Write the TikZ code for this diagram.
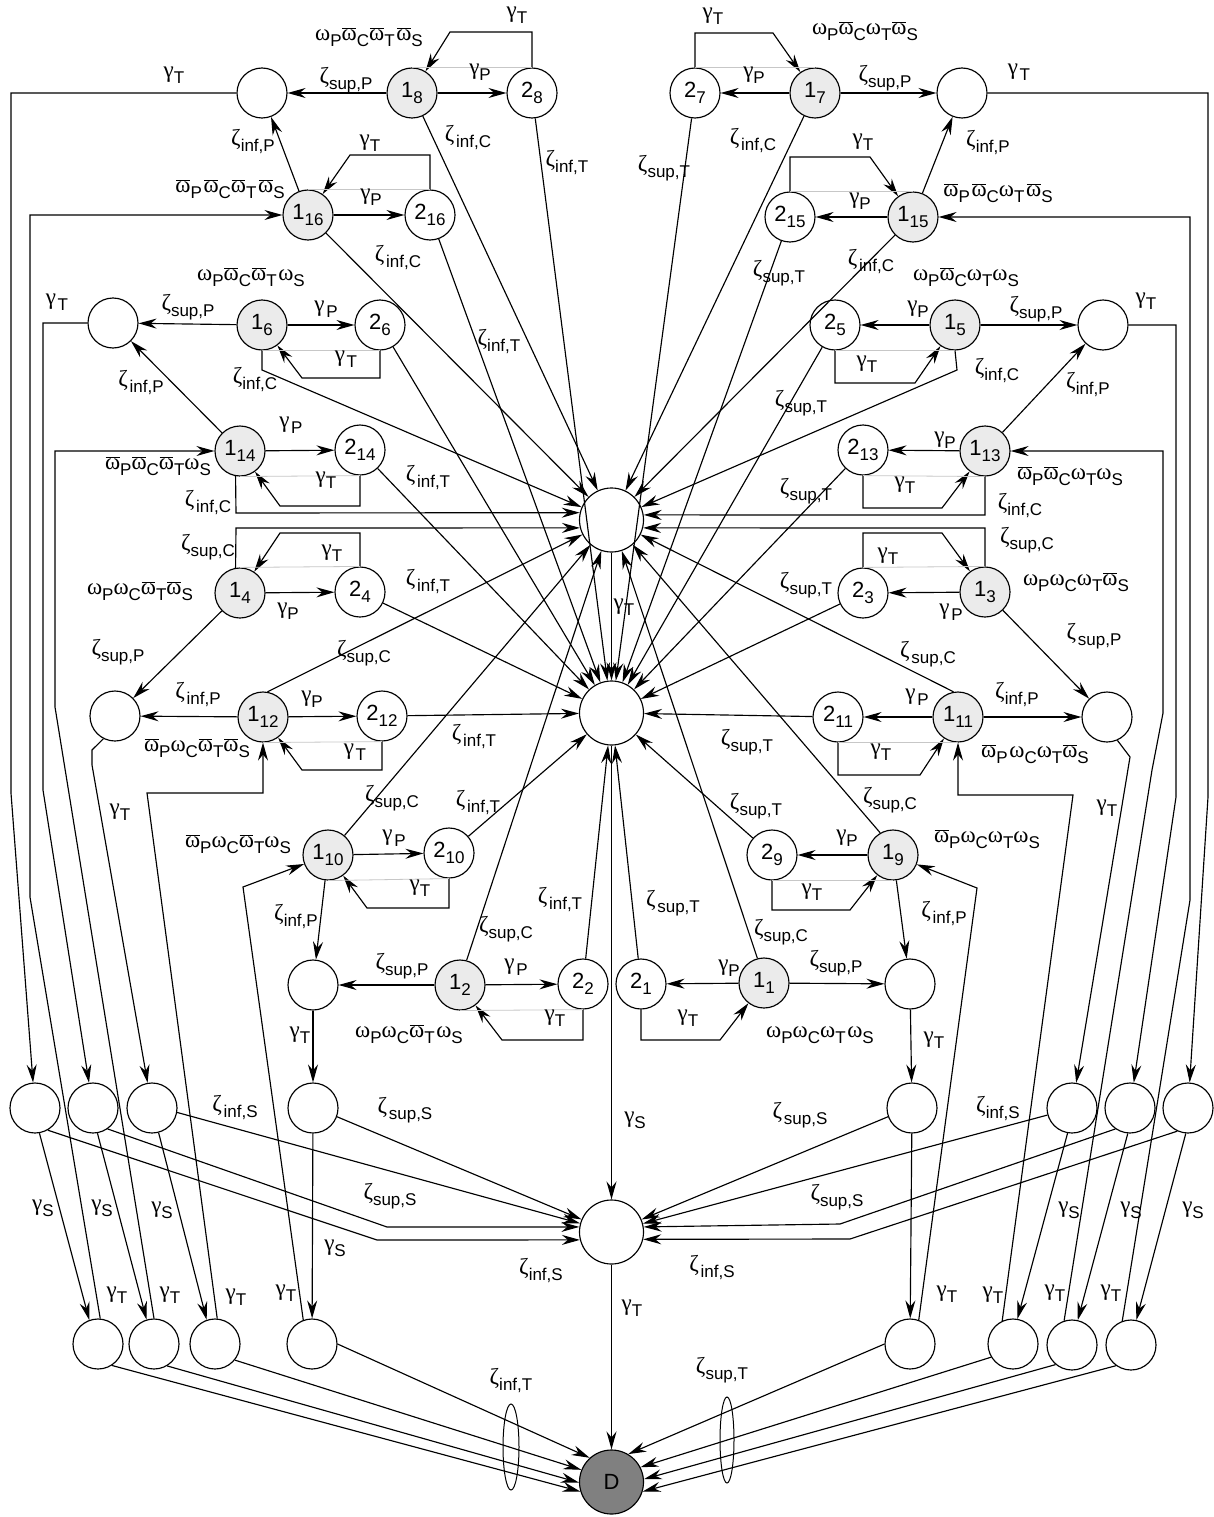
\documentclass[tikz,border=0pt]{standalone}
\usepackage{fontspec}
\setmainfont{Liberation Sans}
\newfontfamily\grk{Liberation Serif}
\usetikzlibrary{arrows.meta}
\newcommand\gk[1]{{\grk\fontsize{23}{23}\selectfont #1}}
\newcommand\sbx[1]{\raisebox{-6pt}{\fontsize{17}{17}\selectfont #1}}
\newcommand\zl[2]{\gk{#1}\sbx{#2}}
\newcommand\zls[2]{\gk{#1}\,\sbx{#2}}
\newcommand\vpi{\ooalign{ω\cr\hidewidth\rule[0.49em]{0.6em}{0.055em}\hidewidth\cr}}
\newcommand\om{\gk{ω}}
\newcommand\vp{\gk{\vpi}}
\newcommand\nd[2]{{\fontsize{22}{22}\selectfont #1}\raisebox{-6pt}{\fontsize{17}{17}\selectfont #2}}
\newcounter{labc}
\newcommand\lab[2]{\stepcounter{labc}\node[lbl] (lab\arabic{labc}) at (#1) {#2};}
\tikzset{
 arr/.style={-{Stealth[length=18pt,width=10pt,inset=6pt]}, line width=1.15pt},
 gl/.style={draw=black!22, line width=0.8pt},
 stn/.style={circle, draw, line width=1.15pt, fill=black!8, minimum size=50pt, inner sep=0pt},
 emn/.style={circle, draw, line width=1.15pt, fill=white, minimum size=50pt, inner sep=0pt},
 bign/.style={circle, draw, line width=1.15pt, fill=white, minimum size=64pt, inner sep=0pt},
 lbl/.style={inner sep=0pt},
}
\begin{document}
\begin{tikzpicture}[x=1pt,y=-1pt]
\fill[white] (0,0) rectangle (1213,1517);
\useasboundingbox (0,0) rectangle (1213,1517);
% ---------- nodes ----------
\node[emn] (L8) at (262,93) {};
\node[stn] (n18) at (412,93) {\nd{1}{8}};
\node[emn] (n28) at (532,93) {\nd{2}{8}};
\node[emn] (n27) at (695,93) {\nd{2}{7}};
\node[stn] (n17) at (815,93) {\nd{1}{7}};
\node[emn] (R7) at (962,93) {};
\node[stn] (n116) at (308,215) {\nd{1}{16}};
\node[emn] (n216) at (430,215) {\nd{2}{16}};
\node[emn] (n215) at (790,217) {\nd{2}{15}};
\node[stn] (n115) at (913,217) {\nd{1}{15}};
\node[emn] (L6) at (113,323) {};
\node[stn] (n16) at (262,325) {\nd{1}{6}};
\node[emn] (n26) at (380,325) {\nd{2}{6}};
\node[emn] (n25) at (835,325) {\nd{2}{5}};
\node[stn] (n15) at (955,325) {\nd{1}{5}};
\node[emn] (R5) at (1103,325) {};
\node[stn] (n114) at (240,451) {\nd{1}{14}};
\node[emn] (n214) at (360,450) {\nd{2}{14}};
\node[emn] (n213) at (863,450) {\nd{2}{13}};
\node[stn] (n113) at (985,451) {\nd{1}{13}};
\node[bign] (C1) at (611.5,520) {};
\node[stn] (n14) at (240,593) {\nd{1}{4}};
\node[emn] (n24) at (360,592) {\nd{2}{4}};
\node[emn] (n23) at (863,593) {\nd{2}{3}};
\node[stn] (n13) at (985,592) {\nd{1}{3}};
\node[emn] (L12) at (115,716) {};
\node[stn] (n112) at (263,717) {\nd{1}{12}};
\node[emn] (n212) at (382,716) {\nd{2}{12}};
\node[bign] (C2) at (611.5,713) {};
\node[emn] (n211) at (838,717) {\nd{2}{11}};
\node[stn] (n111) at (958,717) {\nd{1}{11}};
\node[emn] (R11) at (1107,717) {};
\node[stn] (n110) at (328,855) {\nd{1}{10}};
\node[emn] (n210) at (449,853) {\nd{2}{10}};
\node[emn] (n29) at (772,855) {\nd{2}{9}};
\node[stn] (n19) at (893,855) {\nd{1}{9}};
\node[emn] (L2) at (313,985) {};
\node[stn] (n12) at (460,985) {\nd{1}{2}};
\node[emn] (n22) at (583,984) {\nd{2}{2}};
\node[emn] (n21) at (641,984) {\nd{2}{1}};
\node[stn] (n11) at (764,983) {\nd{1}{1}};
\node[emn] (R1) at (910,984) {};
\node[emn] (Sa) at (35,1108) {};
\node[emn] (Sb) at (93,1108) {};
\node[emn] (Sc) at (152,1108) {};
\node[emn] (Sd) at (313,1108) {};
\node[bign] (C3) at (611.5,1232) {};
\node[emn] (Se) at (912,1108) {};
\node[emn] (Sf) at (1072,1108) {};
\node[emn] (Sg) at (1130,1108) {};
\node[emn] (Sh) at (1188,1108) {};
\node[emn] (Ta) at (98,1344) {};
\node[emn] (Tb) at (154,1344) {};
\node[emn] (Tc) at (215,1344) {};
\node[emn] (Td) at (312,1344) {};
\node[emn] (Te) at (910,1344) {};
\node[emn] (Tf) at (1013,1344) {};
\node[emn] (Tg) at (1072,1345) {};
\node[emn] (Th) at (1131,1345) {};
\node[bign, fill=black!50] (D) at (611.5,1482) {\fontsize{22}{22}\selectfont D};
% ---------- group 8 ----------
\draw[arr] (n18) -- (L8);
\draw[arr] (n18) -- (n28);
\draw[arr] (n28.north) -- (532,32) -- (450,32) -- (n18);
\draw[gl] (n18.north) -- (n28.north);
\draw[arr] (n18) -- (C1);
\draw[arr] (n28) -- (C2);
\draw[arr] (L8.west) -- (11,93) -- (11,793) -- (Sa);
% ---------- group 16 ----------
\draw[arr] (n116) -- (L8);
\draw[arr] (n116) -- (n216);
\draw[arr] (n216.north) -- (430,155) -- (350,155) -- (n116);
\draw[gl] (n116.north) -- (n216.north);
\draw[arr] (n116) -- (C1);
\draw[arr] (n216) -- (C2);
\draw[arr] (Ta.85) -- (30,897) -- (30,215) -- (n116);
% ---------- group 6 ----------
\draw[arr] (n16) -- (L6);
\draw[arr] (n16) -- (n26);
\draw[arr] (n26.south) -- (380,378) -- (302,378) -- (n16);
\draw[gl] (n16.south) -- (n26.south);
\draw[arr] (n16.south) -- (262,370) -- (C1);
\draw[arr] (n26) -- (C2);
\draw[arr] (n114) -- (L6);
\draw[arr] (L6.west) -- (43,323) -- (43,790) -- (Sb);
% ---------- group 14 ----------
\draw[arr] (n114) -- (n214);
\draw[arr] (n214.south) -- (360,506) -- (280,506) -- (n114);
\draw[gl] (n114.south) -- (n214.south);
\draw[arr] (n114.260) -- (236,513) -- (C1.167);
\draw[arr] (n214) -- (C2);
\draw[arr] (Tb.90) -- (55,707) -- (55,451) -- (n114);
% ---------- group 4 ----------
\draw[arr] (n14) -- (n24);
\draw[arr] (n24.north) -- (360,533) -- (280,533) -- (n14);
\draw[gl] (n14.north) -- (n24.north);
\draw[arr] (n14.100) -- (236,528) -- (C1.194);
\draw[arr] (n14) -- (L12);
\draw[arr] (n24) -- (C2);
% ---------- group 12 ----------
\draw[arr] (n112) -- (L12);
\draw[arr] (n112) -- (n212);
\draw[arr] (n212.south) -- (382,770) -- (302,770) -- (n112);
\draw[gl] (n112.south) -- (n212.south);
\draw[arr] (n112.80) -- (C1);
\draw[arr] (n212) -- (C2);
\draw[arr] (Tc.85) -- (147,793) -- (263,793) -- (n112.south);
\draw[arr] (L12.-117) -- (92,750) -- (92,765) -- (Sc);
% ---------- group 10 ----------
\draw[arr] (n110) -- (n210);
\draw[arr] (n210.south) -- (449,908) -- (367,908) -- (n110);
\draw[gl] (n110.south) -- (n210.south);
\draw[arr] (n110) -- (C1);
\draw[arr] (n110) -- (L2);
\draw[arr] (n210) -- (C2);
\draw[arr] (Td.110) -- (243,887) -- (n110);
% ---------- group 2 ----------
\draw[arr] (n12) -- (L2);
\draw[arr] (n12) -- (n22);
\draw[arr] (n22.south) -- (583,1040) -- (502,1040) -- (n12);
\draw[gl] (n12.south) -- (n22.south);
\draw[arr] (n12.75) -- (C1);
\draw[arr] (n22) -- (C2);
\draw[arr] (L2) -- (Sd);
\draw[arr] (Sd) -- (Td);
% ---------- group 1 ----------
\draw[arr] (n11) -- (n21);
\draw[arr] (n11) -- (R1);
\draw[arr] (n21.south) -- (641,1040) -- (720,1040) -- (n11);
\draw[arr] (n11.105) -- (C1);
\draw[arr] (n21) -- (C2);
\draw[arr] (R1) -- (Se);
\draw[arr] (Se) -- (Te);
% ---------- group 9 ----------
\draw[arr] (n19) -- (n29);
\draw[arr] (n29.south) -- (772,910) -- (850,910) -- (n19);
\draw[gl] (n19.south) -- (n29.south);
\draw[arr] (n19.120) -- (C1);
\draw[arr] (n29) -- (C2);
\draw[arr] (n19) -- (R1);
\draw[arr] (Te.70) -- (977,888) -- (n19);
% ---------- group 11 ----------
\draw[arr] (n111) -- (n211);
\draw[arr] (n111) -- (R11);
\draw[arr] (n211.south) -- (838,775) -- (920,775) -- (n111);
\draw[gl] (n111.south) -- (n211.south);
\draw[arr] (n111.100) -- (C1);
\draw[arr] (n211) -- (C2);
\draw[arr] (Tf.115) -- (1073,795) -- (958,795) -- (n111.south);
\draw[arr] (R11.-66) -- (1130,757) -- (Sf);
% ---------- group 3 ----------
\draw[arr] (n13) -- (n23);
\draw[arr] (n23.north) -- (863,533) -- (942,533) -- (n13);
\draw[gl] (n13.north) -- (n23.north);
\draw[arr] (n13.north) -- (985,528) -- (C1.-14);
\draw[arr] (n13) -- (R11);
\draw[arr] (n23) -- (C2);
% ---------- group 13 ----------
\draw[arr] (n113) -- (n213);
\draw[arr] (n213.south) -- (863,508) -- (942,508) -- (n113);
\draw[gl] (n113.south) -- (n213.south);
\draw[arr] (n113.south) -- (985,515) -- (C1.9);
\draw[arr] (n113) -- (R5);
\draw[arr] (n213) -- (C2);
\draw[arr] (Tg.108) -- (1152,770) -- (1163,713) -- (1163,451) -- (n113);
% ---------- group 5 ----------
\draw[arr] (n15) -- (n25);
\draw[arr] (n15) -- (R5);
\draw[arr] (n25.south) -- (835,383) -- (915,383) -- (n15);
\draw[gl] (n15.south) -- (n25.south);
\draw[arr] (n15.south) -- (957,370) -- (C1);
\draw[arr] (n25) -- (C2);
\draw[arr] (R5.east) -- (1176,325) -- (1176,797) -- (Sg);
% ---------- group 15 ----------
\draw[arr] (n115) -- (n215);
\draw[arr] (n215.north) -- (790,157) -- (870,157) -- (n115);
\draw[gl] (n115.north) -- (n215.north);
\draw[arr] (n115) -- (R7);
\draw[arr] (n115) -- (C1);
\draw[arr] (n215) -- (C2);
\draw[arr] (Th.110) -- (1190,900) -- (1190,217) -- (n115);
% ---------- group 7 ----------
\draw[arr] (n17) -- (n27);
\draw[arr] (n17) -- (R7);
\draw[arr] (n27.north) -- (695,33) -- (773,33) -- (n17);
\draw[gl] (n17.north) -- (n27.north);
\draw[arr] (n17) -- (C1);
\draw[arr] (n27) -- (C2);
\draw[arr] (R7.east) -- (1208,93) -- (1208,797) -- (Sh);
% ---------- centre column ----------
\draw[arr] (C1) -- (C2);
\draw[arr] (C2) -- (C3);
\draw[arr] (C3) -- (D);
% ---------- S to T ----------
\draw[arr] (Sa.-80) -- (Ta.110);
\draw[arr] (Sb.-80) -- (Tb.107);
\draw[arr] (Sc.-75) -- (Tc.109);
\draw[arr] (Sf.-100) -- (Tf.80);
\draw[arr] (Sg.-95) -- (Tg.77);
\draw[arr] (Sh.-95) -- (Th.78);
% ---------- S to C3 ----------
\draw[arr] (Sa.-60) -- (377,1240) -- (C3.194);
\draw[arr] (Sb.-55) -- (387,1227) -- (C3.171);
\draw[arr] (Sc.-10) -- (C3);
\draw[arr] (Sd.-20) -- (C3);
\draw[arr] (Se.200) -- (C3);
\draw[arr] (Sf.196) -- (C3);
\draw[arr] (Sg.235) -- (840,1224) -- (C3.9);
\draw[arr] (Sh.245) -- (850,1239) -- (C3.-13);
% ---------- T to D ----------
\draw[arr] (Ta.-57) -- (D.197);
\draw[arr] (Tb.-59) -- (D.181);
\draw[arr] (Tc.-39) -- (D.158);
\draw[arr] (Td.0) -- (D.132);
\draw[arr] (Te.180) -- (D.59);
\draw[arr] (Tf.211) -- (D.27);
\draw[arr] (Tg.230) -- (D.5);
\draw[arr] (Th.234) -- (D.-17);
\draw[line width=1pt] (511,1447) ellipse [x radius=8pt, y radius=43pt];
\draw[line width=1pt] (727,1440) ellipse [x radius=7pt, y radius=43pt];
% ---------- labels ----------
\lab{174,75}{\zl{γ}{T}}
\lab{346,80}{\zl{ζ}{sup,P}}
\lab{369,38}{\om\sbx{P}\vp\sbx{C}\vp\sbx{T}\,\vp\sbx{S}}
\lab{517,15}{\zl{γ}{T}}
\lab{480,72}{\zl{γ}{P}}
\lab{468,138}{\zls{ζ}{inf,C}}
\lab{567,163}{\zl{ζ}{inf,T}}
\lab{253,142}{\zl{ζ}{inf,P}}
\lab{370,143}{\zl{γ}{T}}
\lab{230,190}{\vp\sbx{P}\,\vp\sbx{C}\vp\sbx{T}\,\vp\sbx{S}}
\lab{371,197}{\zl{γ}{P}}
\lab{398,258}{\zls{ζ}{inf,C}}
\lab{499,342}{\zl{ζ}{inf,T}}
\lab{251,278}{\om\sbx{P}\vp\sbx{C}\vp\sbx{T}\,\om\sbx{S}}
\lab{57,302}{\zls{γ}{T}}
\lab{188,307}{\zl{ζ}{sup,P}}
\lab{326,309}{\zls{γ}{P}}
\lab{346,359}{\zls{γ}{T}}
\lab{141,383}{\zls{ζ}{inf,P}}
\lab{255,380}{\zl{ζ}{inf,C}}
\lab{291,425}{\zls{γ}{P}}
\lab{158,467}{\vp\sbx{P}\vp\sbx{C}\vp\sbx{T}\om\sbx{S}}
\lab{326,480}{\zl{γ}{T}}
\lab{208,503}{\zls{ζ}{inf,C}}
\lab{428,478}{\zls{ζ}{inf,T}}
\lab{208,547}{\zl{ζ}{sup,C}}
\lab{332,553}{\zl{γ}{T}}
\lab{140,592}{\om\sbx{P}\om\sbx{C}\vp\sbx{T}\vp\sbx{S}}
\lab{288,611}{\zl{γ}{P}}
\lab{428,582}{\zls{ζ}{inf,T}}
\lab{118,652}{\zl{ζ}{sup,P}}
\lab{364,653}{\zl{ζ}{sup,C}}
\lab{198,695}{\zls{ζ}{inf,P}}
\lab{312,699}{\zl{γ}{P}}
\lab{197,749}{\vp\sbx{P}\om\sbx{C}\vp\sbx{T}\vp\sbx{S}}
\lab{355,752}{\zls{γ}{T}}
\lab{474,737}{\zls{ζ}{inf,T}}
\lab{120,812}{\zl{γ}{T}}
\lab{392,798}{\zl{ζ}{sup,C}}
\lab{238,845}{\vp\sbx{P}\om\sbx{C}\vp\sbx{T}\om\sbx{S}}
\lab{394,838}{\zls{γ}{P}}
\lab{420,888}{\zl{γ}{T}}
\lab{296,917}{\zl{ζ}{inf,P}}
\lab{478,803}{\zls{ζ}{inf,T}}
\lab{402,966}{\zl{ζ}{sup,P}}
\lab{409,1035}{\om\sbx{P}\om\sbx{C}\vp\sbx{T}\,\om\sbx{S}}
\lab{300,1035}{\zl{γ}{T}}
\lab{235,1107}{\zls{ζ}{inf,S}}
\lab{405,1110}{\zls{ζ}{sup,S}}
\lab{506,929}{\zl{ζ}{sup,C}}
\lab{560,900}{\zls{ζ}{inf,T}}
\lab{516,967}{\zls{γ}{P}}
\lab{555,1018}{\zl{γ}{T}}
\lab{673,903}{\zls{ζ}{sup,T}}
\lab{781,932}{\zl{ζ}{sup,C}}
\lab{729,968}{\zl{γ}{P}}
\lab{688,1018}{\zl{γ}{T}}
\lab{820,1035}{\om\sbx{P}\om\sbx{C}\om\sbx{T}\,\om\sbx{S}}
\lab{635,1120}{\zl{γ}{S}}
\lab{756,806}{\zl{ζ}{sup,T}}
\lab{890,800}{\zl{ζ}{sup,C}}
\lab{847,838}{\zl{γ}{P}}
\lab{987,840}{\vp\sbx{P}\om\sbx{C}\om\sbx{T}\om\sbx{S}}
\lab{812,892}{\zl{γ}{T}}
\lab{944,914}{\zls{ζ}{inf,P}}
\lab{836,963}{\zl{ζ}{sup,P}}
\lab{934,1040}{\zl{γ}{T}}
\lab{998,1108}{\zl{ζ}{inf,S}}
\lab{1107,808}{\zl{γ}{T}}
\lab{800,1115}{\zls{ζ}{sup,S}}
\lab{713,16}{\zl{γ}{T}}
\lab{865,32}{\om\sbx{P}\vp\sbx{C}\om\sbx{T}\vp\sbx{S}}
\lab{754,75}{\zl{γ}{P}}
\lab{885,78}{\zl{ζ}{sup,P}}
\lab{1019,72}{\zls{γ}{T}}
\lab{753,141}{\zls{ζ}{inf,C}}
\lab{664,168}{\zl{ζ}{sup,T}}
\lab{988,143}{\zl{ζ}{inf,P}}
\lab{863,142}{\zl{γ}{T}}
\lab{860,201}{\zl{γ}{P}}
\lab{998,194}{\vp\sbx{P}\,\vp\sbx{C}\om\sbx{T}\,\vp\sbx{S}}
\lab{779,273}{\zl{ζ}{sup,T}}
\lab{871,262}{\zls{ζ}{inf,C}}
\lab{966,278}{\om\sbx{P}\vp\sbx{C}\om\sbx{T}\om\sbx{S}}
\lab{918,309}{\zl{γ}{P}}
\lab{1036,309}{\zl{ζ}{sup,P}}
\lab{1146,301}{\zl{γ}{T}}
\lab{867,364}{\zl{γ}{T}}
\lab{997,371}{\zl{ζ}{inf,C}}
\lab{1088,385}{\zl{ζ}{inf,P}}
\lab{801,403}{\zl{ζ}{sup,T}}
\lab{806,491}{\zl{ζ}{sup,T}}
\lab{945,440}{\zl{γ}{P}}
\lab{1070,477}{\vp\sbx{P}\vp\sbx{C}\om\sbx{T}\om\sbx{S}}
\lab{905,485}{\zl{γ}{T}}
\lab{1020,506}{\zl{ζ}{inf,C}}
\lab{1027,540}{\zl{ζ}{sup,C}}
\lab{888,556}{\zl{γ}{T}}
\lab{1076,583}{\om\sbx{P}\om\sbx{C}\om\sbx{T}\vp\sbx{S}}
\lab{951,612}{\zls{γ}{P}}
\lab{806,585}{\zl{ζ}{sup,T}}
\lab{1094,636}{\zls{ζ}{sup,P}}
\lab{928,654}{\zls{ζ}{sup,C}}
\lab{917,697}{\zls{γ}{P}}
\lab{1017,695}{\zl{ζ}{inf,P}}
\lab{881,752}{\zl{γ}{T}}
\lab{1035,755}{\vp\sbx{P}\,\om\sbx{C}\om\sbx{T}\vp\sbx{S}}
\lab{747,742}{\zl{ζ}{sup,T}}
\lab{624,607}{\zl{γ}{T}}
\lab{43,1208}{\zl{γ}{S}}
\lab{102,1208}{\zl{γ}{S}}
\lab{162,1210}{\zl{γ}{S}}
\lab{335,1248}{\zl{γ}{S}}
\lab{117,1295}{\zl{γ}{T}}
\lab{170,1295}{\zl{γ}{T}}
\lab{236,1297}{\zl{γ}{T}}
\lab{286,1293}{\zl{γ}{T}}
\lab{390,1196}{\zl{ζ}{sup,S}}
\lab{541,1270}{\zl{ζ}{inf,S}}
\lab{712,1267}{\zls{ζ}{inf,S}}
\lab{837,1197}{\zl{ζ}{sup,S}}
\lab{632,1308}{\zl{γ}{T}}
\lab{511,1380}{\zl{ζ}{inf,T}}
\lab{722,1370}{\zl{ζ}{sup,T}}
\lab{1069,1210}{\zl{γ}{S}}
\lab{1131,1210}{\zl{γ}{S}}
\lab{1193,1210}{\zl{γ}{S}}
\lab{947,1294}{\zl{γ}{T}}
\lab{993,1295}{\zl{γ}{T}}
\lab{1055,1293}{\zl{γ}{T}}
\lab{1111,1293}{\zl{γ}{T}}
\end{tikzpicture}
\end{document}
